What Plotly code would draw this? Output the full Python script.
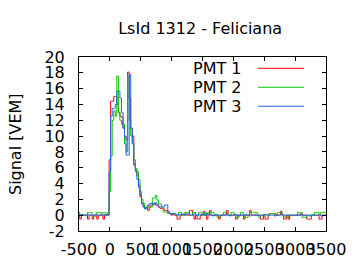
import plotly.graph_objects as go

title_text = "LsId 1312 - Feliciana"
y_title = "Signal [VEM]"
series_names = ["PMT 1", "PMT 2", "PMT 3"]
series_colors = ["#ff0000", "#00c800", "#2060ff"]

# bin centres (ns), 25 ns sampling
time_ns = list(range(-500, 3501, 25))

pmt1 = [
    0, -0.5, 0, 0, 0, 0, -0.5, 0, 0, -0.5, 0, 0, -0.5, 0, 0, 0, -0.5, 0, 0, 0,
    7.0, 14.4, 14.4, 15.0, 15.0, 14.0, 13.0, 12.5, 12.4, 11.0, 10.0, 9.5, 18.1, 14.8, 11.0, 10.0, 6.3, 5.8, 5.0, 3.8,
    2.3, 1.5, 1.2, 1.0, 1.0, 0.6, 1.0, 1.3, 1.3, 1.5, 1.3, 1.3, 1.0, 0.85, 0.85, 0.8, 0.6, 0.6, 0.3, 0.2,
    0, 0.2, 0, 0, -0.5, -0.5, 0, 0, 0, 0.2, 0, 0, 0.6, 0.6, 0, -0.5, 0, -0.5, -0.5, 0,
    0, 0.5, 0, -0.5, 0, 0.6, 0, 0, 0, 0, 0, -0.5, 0, 0, 0, 0, 0.6, 0, 0, 0,
    0, 0, -0.5, 0, 0, 0, 0, -0.5, 0, 0, 0, 0.6, 0, 0, 0, 0, 0, 0, -0.5, -0.5,
    0, -0.5, -0.5, 0, 0.2, 0.2, 0.2, 0.2, 0, 0, 0, 0.5, 0, -0.5, -0.5, 0, -0.5, 0, 0, 0,
    0, 0, 0, 0, 0.2, 0, 0, 0, -0.5, -0.5, -0.5, 0, 0, 0, 0, 0, -0.5, -0.5, 0, 0,
    0,
]

pmt2 = [
    0.35, 0, 0, 0, 0, 0, 0.35, 0.35, 0.35, 0, -0.2, 0, 0.35, 0.35, 0.35, 0, 0.35, 0.35, 0, 0.3,
    3.0, 7.5, 12.0, 13.2, 12.5, 17.6, 13.0, 12.0, 11.5, 11.5, 9.0, 8.0, 17.5, 12.0, 10.0, 9.1, 7.0, 5.9, 5.5, 4.5,
    3.0, 2.0, 1.5, 0.8, 1.0, 1.2, 1.05, 1.05, 2.15, 2.15, 2.5, 1.9, 1.4, 1.4, 1.0, 0.4, 0.4, 0.4, 0.2, 0.2,
    0.2, 0.2, 0.2, 0, 0, 0.35, 0.35, 0, 0, 0.35, 0.35, 0.35, 0, 0, 0.35, 0.35, 0, 0, 0.35, 0.35,
    0, 0, 0.35, 0, 0.35, 0.35, 0.35, 0.35, 0, 0, -0.3, -0.3, 0, 0, 0.35, 0.35, 0.35, 0, 0, 0.35,
    0.35, 0, 0, -0.3, 0, 0.35, 0.35, 0, -0.3, -0.3, 0, 0.35, 0.35, 0.35, 0.35, 0.35, 0, -0.3, 0, 0,
    0, 0, 0, 0, 0.2, 0.2, 0.2, 0, 0, 0.35, 0.35, 0.35, 0, 0, -0.3, -0.3, 0, 0, 0, 0,
    0, 0, 0.35, 0.35, 0.35, -0.3, -0.3, -0.3, 0, 0, 0, 0, 0, 0.35, 0.35, 0.35, 0, 0.35, 0.35, 0.35,
    0.35,
]

pmt3 = [
    0, 0, 0.1, 0, 0, 0, 0.1, 0, 0, 0, 0, 0.1, 0, 0, 0, 0, 0, 0.1, 0, 0,
    5.5, 12.5, 13.5, 13.5, 14.0, 15.7, 15.7, 14.8, 13.0, 11.0, 9.9, 7.6, 7.6, 17.8, 11.0, 9.0, 6.5, 5.5, 4.5, 3.5,
    2.5, 1.5, 1.0, 0.8, 0.9, 1.3, 1.48, 1.48, 1.3, 1.55, 1.55, 1.2, 1.05, 1.05, 1.05, 1.05, 1.3, 1.3, 0.5, 0.2,
    0.2, 0.1, 0.2, 0.1, 0, 0.1, 0, 0.2, 0.1, 0, 0.1, 0.2, 0, 0, 0.1, 0.2, 0, 0, 0.1, 0,
    0.1, 0, 0, 0.2, 0.1, 0, 0, -0.1, 0, 0.1, 0, 0, -0.1, 0, 0, 0.1, 0, 0, -0.1, 0,
    0, 0.1, 0, 0, -0.1, 0, 0, 0, 0.1, 0, 0, -0.1, 0, 0, 0.1, 0, 0, 0, -0.1, 0,
    0.1, 0.1, 0.1, 0, 0, 0, 0, -0.1, 0, 0, 0, 0.1, 0, 0, 0, 0, 0, 0, 0, 0,
    0, 0, 0, 0.1, 0, 0, 0, 0, 0, -0.1, 0, 0, 0, 0, 0, 0, 0, -0.1, 0, 0,
    0,
]

x_ticks = [-500, 0, 500, 1000, 1500, 2000, 2500, 3000, 3500]
y_ticks = [-2, 0, 2, 4, 6, 8, 10, 12, 14, 16, 18, 20]

FONT = "DejaVu Sans"

fig = go.Figure()
for name, ys, col in zip(series_names, [pmt1, pmt2, pmt3], series_colors):
    fig.add_trace(go.Scatter(x=time_ns, y=ys, mode="lines", name=name,
                             line=dict(color=col, width=1, shape="hvh"),
                             showlegend=False))

# gnuplot-style key: text then sample line
annotations = []
shapes = []
row_y = [0.935, 0.826, 0.717]
for name, col, yy in zip(series_names, series_colors, row_y):
    annotations.append(dict(x=0.668, y=yy, xref="paper", yref="paper", text=name,
                            showarrow=False, xanchor="right", yanchor="middle",
                            font=dict(family=FONT, size=16, color="#000")))
    shapes.append(dict(type="line", xref="paper", yref="paper", x0=0.725, x1=0.911,
                       y0=yy, y1=yy, line=dict(color=col, width=1)))

annotations.append(dict(x=-0.259, y=0.5, xref="paper", yref="paper", text=y_title,
                        showarrow=False, textangle=-90, xanchor="center", yanchor="middle",
                        font=dict(family=FONT, size=16, color="#000")))

axis_common = dict(showline=True, linecolor="#000", linewidth=1, mirror="ticks",
                   ticks="inside", ticklen=4, tickcolor="#000", showgrid=False,
                   zeroline=False, tickangle=0,
                   tickfont=dict(family=FONT, size=16, color="#000"))

fig.update_layout(
    width=360, height=270,
    margin=dict(l=79, r=34, t=57, b=39),
    paper_bgcolor="#fff", plot_bgcolor="#fff",
    title=dict(text=title_text, x=0.556, xref="container", xanchor="center",
               y=0.896, yref="container", yanchor="middle",
               font=dict(family=FONT, size=16, color="#000")),
    xaxis=dict(range=[-500, 3500], tickvals=x_ticks, ticktext=[str(v) for v in x_ticks],
               ticklabelstandoff=4, **axis_common),
    yaxis=dict(range=[-2, 20], tickvals=y_ticks, ticktext=[str(v) for v in y_ticks],
               ticklabelstandoff=10, **axis_common),
    annotations=annotations, shapes=shapes,
)

fig.write_html("out.html")
